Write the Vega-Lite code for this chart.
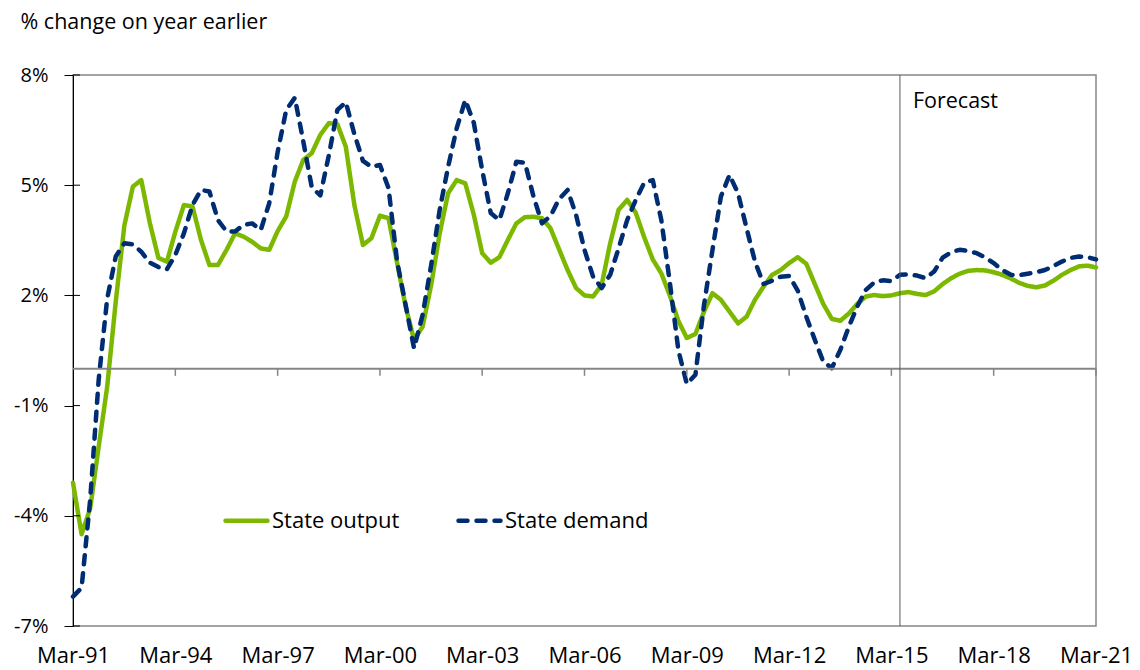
{
  "$schema": "https://vega.github.io/schema/vega-lite/v6.json",
  "width": 1023,
  "height": 551,
  "autosize": {"type": "none"},
  "padding": {"left": 73, "top": 75, "right": 44, "bottom": 44},
  "background": "white",
  "config": {"font": "Open Sans", "view": {"stroke": "#868686", "strokeWidth": 1.5}},
  "datasets": {
    "growth": [
      {"date": "1991-03-15", "output": -3.1, "demand": -6.2},
      {"date": "1991-06-15", "output": -4.5, "demand": -5.96},
      {"date": "1991-09-15", "output": -3.8, "demand": -3.56},
      {"date": "1991-12-15", "output": -2.12, "demand": -0.3},
      {"date": "1992-03-15", "output": -0.49, "demand": 1.91},
      {"date": "1992-06-15", "output": 1.83, "demand": 3.06},
      {"date": "1992-09-15", "output": 3.9, "demand": 3.42},
      {"date": "1992-12-15", "output": 4.96, "demand": 3.39},
      {"date": "1993-03-15", "output": 5.14, "demand": 3.19},
      {"date": "1993-06-15", "output": 3.97, "demand": 2.89},
      {"date": "1993-09-15", "output": 3.02, "demand": 2.77},
      {"date": "1993-12-15", "output": 2.92, "demand": 2.71},
      {"date": "1994-03-15", "output": 3.73, "demand": 3.1},
      {"date": "1994-06-15", "output": 4.46, "demand": 3.69},
      {"date": "1994-09-15", "output": 4.42, "demand": 4.46},
      {"date": "1994-12-15", "output": 3.51, "demand": 4.87},
      {"date": "1995-03-15", "output": 2.83, "demand": 4.83},
      {"date": "1995-06-15", "output": 2.83, "demand": 4.05},
      {"date": "1995-09-15", "output": 3.24, "demand": 3.74},
      {"date": "1995-12-15", "output": 3.69, "demand": 3.74},
      {"date": "1996-03-15", "output": 3.6, "demand": 3.92},
      {"date": "1996-06-15", "output": 3.46, "demand": 3.96},
      {"date": "1996-09-15", "output": 3.28, "demand": 3.78},
      {"date": "1996-12-15", "output": 3.24, "demand": 4.51},
      {"date": "1997-03-15", "output": 3.75, "demand": 5.9},
      {"date": "1997-06-15", "output": 4.15, "demand": 7.05},
      {"date": "1997-09-15", "output": 5.1, "demand": 7.38},
      {"date": "1997-12-15", "output": 5.69, "demand": 6.19},
      {"date": "1998-03-15", "output": 5.87, "demand": 4.95},
      {"date": "1998-06-15", "output": 6.37, "demand": 4.72},
      {"date": "1998-09-15", "output": 6.69, "demand": 5.82},
      {"date": "1998-12-15", "output": 6.66, "demand": 7.05},
      {"date": "1999-03-15", "output": 6.05, "demand": 7.26},
      {"date": "1999-06-15", "output": 4.46, "demand": 6.39},
      {"date": "1999-09-15", "output": 3.37, "demand": 5.66},
      {"date": "1999-12-15", "output": 3.56, "demand": 5.5},
      {"date": "2000-03-15", "output": 4.17, "demand": 5.55},
      {"date": "2000-06-15", "output": 4.1, "demand": 4.92},
      {"date": "2000-09-15", "output": 2.88, "demand": 2.92},
      {"date": "2000-12-15", "output": 1.7, "demand": 1.74},
      {"date": "2001-03-15", "output": 0.79, "demand": 0.56},
      {"date": "2001-06-15", "output": 1.15, "demand": 1.47},
      {"date": "2001-09-15", "output": 2.29, "demand": 2.83},
      {"date": "2001-12-15", "output": 3.69, "demand": 4.33},
      {"date": "2002-03-15", "output": 4.78, "demand": 5.5},
      {"date": "2002-06-15", "output": 5.14, "demand": 6.55},
      {"date": "2002-09-15", "output": 5.05, "demand": 7.32},
      {"date": "2002-12-15", "output": 4.2, "demand": 6.7},
      {"date": "2003-03-15", "output": 3.15, "demand": 5.41},
      {"date": "2003-06-15", "output": 2.89, "demand": 4.24},
      {"date": "2003-09-15", "output": 3.04, "demand": 4.05},
      {"date": "2003-12-15", "output": 3.51, "demand": 4.78},
      {"date": "2004-03-15", "output": 3.96, "demand": 5.64},
      {"date": "2004-06-15", "output": 4.13, "demand": 5.61},
      {"date": "2004-09-15", "output": 4.14, "demand": 4.69},
      {"date": "2004-12-15", "output": 4.1, "demand": 3.96},
      {"date": "2005-03-15", "output": 3.83, "demand": 4.16},
      {"date": "2005-06-15", "output": 3.26, "demand": 4.62},
      {"date": "2005-09-15", "output": 2.69, "demand": 4.87},
      {"date": "2005-12-15", "output": 2.2, "demand": 4.19},
      {"date": "2006-03-15", "output": 2.0, "demand": 3.24},
      {"date": "2006-06-15", "output": 1.97, "demand": 2.51},
      {"date": "2006-09-15", "output": 2.29, "demand": 2.2},
      {"date": "2006-12-15", "output": 3.42, "demand": 2.56},
      {"date": "2007-03-15", "output": 4.33, "demand": 3.28},
      {"date": "2007-06-15", "output": 4.6, "demand": 4.05},
      {"date": "2007-09-15", "output": 4.25, "demand": 4.6},
      {"date": "2007-12-15", "output": 3.58, "demand": 5.07},
      {"date": "2008-03-15", "output": 2.98, "demand": 5.14},
      {"date": "2008-06-15", "output": 2.6, "demand": 4.05},
      {"date": "2008-09-15", "output": 1.99, "demand": 2.33},
      {"date": "2008-12-15", "output": 1.3, "demand": 0.5},
      {"date": "2009-03-15", "output": 0.84, "demand": -0.41},
      {"date": "2009-06-15", "output": 0.95, "demand": -0.16},
      {"date": "2009-09-15", "output": 1.56, "demand": 1.74},
      {"date": "2009-12-15", "output": 2.06, "demand": 3.24},
      {"date": "2010-03-15", "output": 1.88, "demand": 4.69},
      {"date": "2010-06-15", "output": 1.56, "demand": 5.28},
      {"date": "2010-09-15", "output": 1.24, "demand": 4.78},
      {"date": "2010-12-15", "output": 1.42, "demand": 3.83},
      {"date": "2011-03-15", "output": 1.88, "demand": 2.92},
      {"date": "2011-06-15", "output": 2.24, "demand": 2.31},
      {"date": "2011-09-15", "output": 2.56, "demand": 2.4},
      {"date": "2011-12-15", "output": 2.69, "demand": 2.51},
      {"date": "2012-03-15", "output": 2.88, "demand": 2.53},
      {"date": "2012-06-15", "output": 3.04, "demand": 2.13},
      {"date": "2012-09-15", "output": 2.86, "demand": 1.42},
      {"date": "2012-12-15", "output": 2.31, "demand": 0.79},
      {"date": "2013-03-15", "output": 1.77, "demand": 0.2},
      {"date": "2013-06-15", "output": 1.36, "demand": 0.02},
      {"date": "2013-09-15", "output": 1.31, "demand": 0.52},
      {"date": "2013-12-15", "output": 1.51, "demand": 1.15},
      {"date": "2014-03-15", "output": 1.77, "demand": 1.7},
      {"date": "2014-06-15", "output": 1.97, "demand": 2.15},
      {"date": "2014-09-15", "output": 2.01, "demand": 2.36},
      {"date": "2014-12-15", "output": 1.98, "demand": 2.41},
      {"date": "2015-03-15", "output": 2.0, "demand": 2.39},
      {"date": "2015-06-15", "output": 2.06, "demand": 2.56},
      {"date": "2015-09-15", "output": 2.09, "demand": 2.57},
      {"date": "2015-12-15", "output": 2.04, "demand": 2.54},
      {"date": "2016-03-15", "output": 2.01, "demand": 2.47},
      {"date": "2016-06-15", "output": 2.11, "demand": 2.65},
      {"date": "2016-09-15", "output": 2.31, "demand": 3.03},
      {"date": "2016-12-15", "output": 2.47, "demand": 3.18},
      {"date": "2017-03-15", "output": 2.59, "demand": 3.24},
      {"date": "2017-06-15", "output": 2.67, "demand": 3.21},
      {"date": "2017-09-15", "output": 2.69, "demand": 3.15},
      {"date": "2017-12-15", "output": 2.68, "demand": 3.03},
      {"date": "2018-03-15", "output": 2.63, "demand": 2.88},
      {"date": "2018-06-15", "output": 2.56, "demand": 2.69},
      {"date": "2018-09-15", "output": 2.46, "demand": 2.56},
      {"date": "2018-12-15", "output": 2.34, "demand": 2.55},
      {"date": "2019-03-15", "output": 2.26, "demand": 2.59},
      {"date": "2019-06-15", "output": 2.22, "demand": 2.63},
      {"date": "2019-09-15", "output": 2.27, "demand": 2.69},
      {"date": "2019-12-15", "output": 2.4, "demand": 2.8},
      {"date": "2020-03-15", "output": 2.56, "demand": 2.92},
      {"date": "2020-06-15", "output": 2.69, "demand": 3.02},
      {"date": "2020-09-15", "output": 2.79, "demand": 3.06},
      {"date": "2020-12-15", "output": 2.81, "demand": 3.04},
      {"date": "2021-03-15", "output": 2.76, "demand": 2.98}
    ],
    "xticks": [
      {"date": "1994-03-15"}, {"date": "1997-03-15"}, {"date": "2000-03-15"}, {"date": "2003-03-15"},
      {"date": "2006-03-15"}, {"date": "2009-03-15"}, {"date": "2012-03-15"}, {"date": "2015-03-15"},
      {"date": "2018-03-15"}, {"date": "2021-03-15"}
    ],
    "yticks": [{"v": -7}, {"v": -4}, {"v": -1}, {"v": 2}, {"v": 5}, {"v": 8}]
  },
  "layer": [
    {
      "data": {"name": "growth"},
      "transform": [{"fold": ["output", "demand"], "as": ["series", "value"]}],
      "mark": {"type": "line", "strokeWidth": 4.5, "strokeCap": "round", "strokeJoin": "round"},
      "encoding": {
        "x": {
          "field": "date", "type": "temporal",
          "scale": {"domain": [{"year": 1991, "month": 3, "date": 15, "utc": true}, {"year": 2021, "month": 3, "date": 15, "utc": true}], "nice": false},
          "axis": {
            "title": null,
            "values": [
              {"year": 1991, "month": 3, "date": 15, "utc": true}, {"year": 1994, "month": 3, "date": 15, "utc": true},
              {"year": 1997, "month": 3, "date": 15, "utc": true}, {"year": 2000, "month": 3, "date": 15, "utc": true},
              {"year": 2003, "month": 3, "date": 15, "utc": true}, {"year": 2006, "month": 3, "date": 15, "utc": true},
              {"year": 2009, "month": 3, "date": 15, "utc": true}, {"year": 2012, "month": 3, "date": 15, "utc": true},
              {"year": 2015, "month": 3, "date": 15, "utc": true}, {"year": 2018, "month": 3, "date": 15, "utc": true},
              {"year": 2021, "month": 3, "date": 15, "utc": true}
            ],
            "format": "%b-%y",
            "domain": false, "ticks": false, "grid": false,
            "labelFontSize": 22, "labelColor": "#000000", "labelPadding": 19,
            "labelFlush": false, "labelOverlap": false
          }
        },
        "y": {
          "field": "value", "type": "quantitative",
          "scale": {"domain": [-7, 8], "nice": false, "zero": false},
          "axis": {
            "values": [-7, -4, -1, 2, 5, 8],
            "labelExpr": "datum.value + '%'",
            "grid": false,
            "domainColor": "#000000", "domainWidth": 1,
            "tickColor": "#000000", "tickSize": 9, "tickWidth": 1,
            "labelFontSize": 20, "labelColor": "#000000", "labelPadding": 16,
            "title": "% change on year earlier",
            "titleAngle": 0, "titleAlign": "left", "titleBaseline": "alphabetic",
            "titleX": -53, "titleY": -47,
            "titleFontSize": 21.5, "titleFontWeight": "normal", "titleColor": "#000000"
          }
        },
        "color": {
          "field": "series", "type": "nominal",
          "scale": {"domain": ["output", "demand"], "range": ["#7DB800", "#002D72"]},
          "legend": {
            "orient": "none", "legendX": 150, "legendY": 422, "direction": "horizontal",
            "title": null, "symbolType": "stroke", "symbolSize": 1764, "symbolStrokeWidth": 4.5,
            "labelFontSize": 22, "labelColor": "#000000", "labelOffset": 2, "columnPadding": 49, "padding": 0,
            "labelExpr": "datum.value == 'output' ? 'State output' : 'State demand'",
            "encode": {"symbols": {"update": {"strokeCap": {"value": "round"}}}}
          }
        },
        "strokeDash": {
          "field": "series", "type": "nominal",
          "scale": {"domain": ["output", "demand"], "range": [[1, 0], [9, 9]]},
          "legend": {
            "orient": "none", "legendX": 150, "legendY": 422, "direction": "horizontal",
            "title": null, "symbolType": "stroke", "symbolSize": 1764, "symbolStrokeWidth": 4.5,
            "labelFontSize": 22, "labelColor": "#000000", "labelOffset": 2, "columnPadding": 49, "padding": 0,
            "labelExpr": "datum.value == 'output' ? 'State output' : 'State demand'",
            "encode": {"symbols": {"update": {"strokeCap": {"value": "round"}}}}
          }
        }
      }
    },
    {
      "data": {"values": [{}]},
      "mark": {"type": "rule", "color": "#868686", "strokeWidth": 2},
      "encoding": {"y": {"datum": 0}}
    },
    {
      "data": {"name": "xticks"},
      "mark": {"type": "rule", "color": "#868686", "strokeWidth": 1.5},
      "encoding": {"x": {"field": "date", "type": "temporal"}, "y": {"datum": 0}, "y2": {"datum": -0.19}}
    },
    {
      "data": {"name": "yticks"},
      "mark": {"type": "rule", "color": "#000000", "strokeWidth": 1},
      "encoding": {
        "y": {"field": "v", "type": "quantitative"},
        "x": {"datum": {"year": 1991, "month": 3, "date": 15, "utc": true}, "type": "temporal"},
        "x2": {"datum": {"year": 1991, "month": 5, "date": 29, "utc": true}}
      }
    },
    {
      "data": {"values": [{}]},
      "mark": {"type": "rule", "color": "#595959", "strokeWidth": 1},
      "encoding": {"x": {"datum": {"year": 2015, "month": 6, "date": 15, "utc": true}, "type": "temporal"}}
    },
    {
      "data": {"values": [{}]},
      "mark": {"type": "text", "align": "left", "baseline": "middle", "dx": 13, "fontSize": 21.5, "color": "#000000"},
      "encoding": {
        "x": {"datum": {"year": 2015, "month": 6, "date": 15, "utc": true}, "type": "temporal"},
        "y": {"datum": 7.27},
        "text": {"value": "Forecast"}
      }
    }
  ]
}
